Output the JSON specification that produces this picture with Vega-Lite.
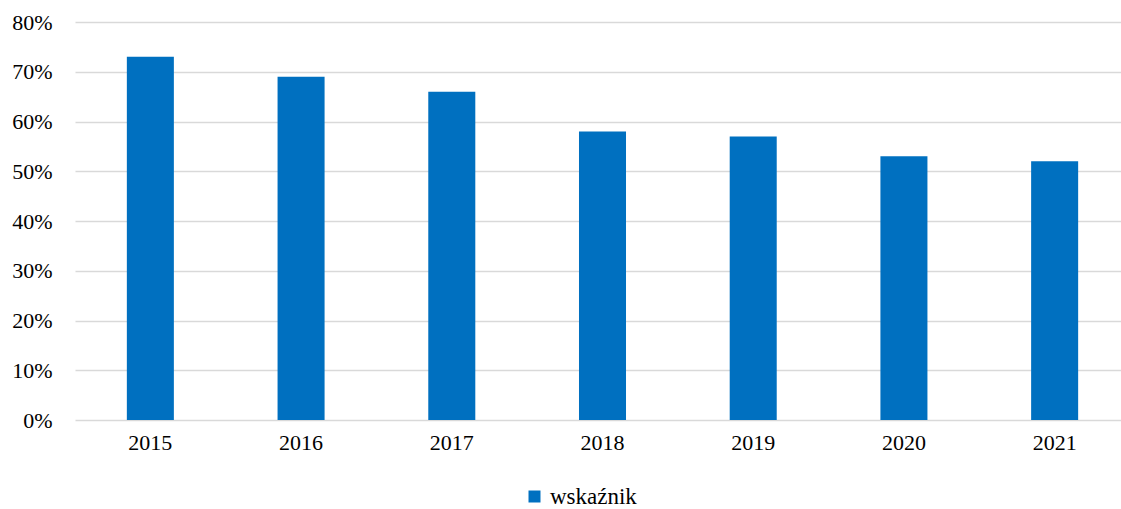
{
  "$schema": "https://vega.github.io/schema/vega-lite/v6.json",
  "autosize": {"type": "none"},
  "width": 1046,
  "height": 398,
  "padding": {"left": 75, "top": 22, "right": 0, "bottom": 89},
  "background": "white",
  "config": {
    "font": "Liberation Serif",
    "view": {"stroke": null}
  },
  "data": {
    "values": [
      {"rok": "2015", "seria": "wskaźnik", "wartosc": 0.73},
      {"rok": "2016", "seria": "wskaźnik", "wartosc": 0.69},
      {"rok": "2017", "seria": "wskaźnik", "wartosc": 0.66},
      {"rok": "2018", "seria": "wskaźnik", "wartosc": 0.58},
      {"rok": "2019", "seria": "wskaźnik", "wartosc": 0.57},
      {"rok": "2020", "seria": "wskaźnik", "wartosc": 0.53},
      {"rok": "2021", "seria": "wskaźnik", "wartosc": 0.52}
    ]
  },
  "mark": {"type": "bar"},
  "encoding": {
    "x": {
      "field": "rok",
      "type": "nominal",
      "sort": null,
      "scale": {"range": [0, 1055], "paddingInner": 0.688, "paddingOuter": 0.344},
      "axis": {
        "title": null,
        "labelAngle": 0,
        "labelFont": "Liberation Serif",
        "labelFontSize": 22,
        "labelColor": "#000000",
        "labelPadding": 12,
        "ticks": false,
        "domain": false,
        "grid": false
      }
    },
    "y": {
      "field": "wartosc",
      "type": "quantitative",
      "scale": {"domain": [0, 0.8], "nice": false},
      "axis": {
        "title": null,
        "format": ".0%",
        "values": [0, 0.1, 0.2, 0.3, 0.4, 0.5, 0.6, 0.7, 0.8],
        "labelFont": "Liberation Serif",
        "labelFontSize": 22,
        "labelColor": "#000000",
        "labelPadding": 23,
        "ticks": false,
        "domain": false,
        "grid": true,
        "gridColor": "#d9d9d9",
        "gridWidth": 1.5
      }
    },
    "color": {
      "field": "seria",
      "type": "nominal",
      "scale": {"range": ["#0070C0"]},
      "legend": {
        "title": null,
        "orient": "none",
        "legendX": 448,
        "legendY": 463,
        "direction": "horizontal",
        "symbolType": "square",
        "symbolSize": 144,
        "symbolStrokeWidth": 0,
        "labelFont": "Liberation Serif",
        "labelFontSize": 23,
        "labelColor": "#000000",
        "labelOffset": 4,
        "symbolOpacity": 1
      }
    }
  }
}
